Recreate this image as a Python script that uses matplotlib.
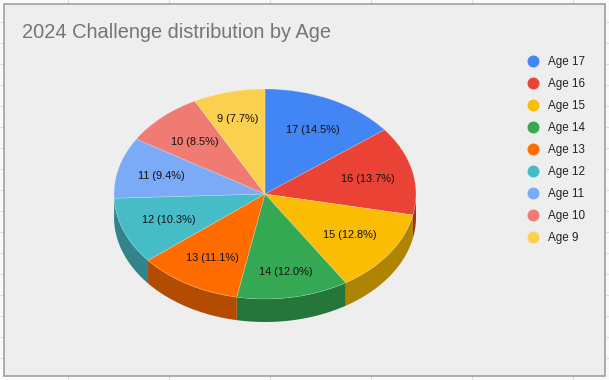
import numpy as np
from matplotlib import pyplot as plt
from matplotlib.lines import Line2D
from matplotlib.patches import Rectangle

plt.rcParams['font.family'] = ['Liberation Sans', 'DejaVu Sans']

ages = ['Age 17', 'Age 16', 'Age 15', 'Age 14', 'Age 13', 'Age 12', 'Age 11', 'Age 10', 'Age 9']
counts = [17, 16, 15, 14, 13, 12, 11, 10, 9]
colors = ['#4285f4', '#ea4335', '#fbbc04', '#34a853', '#ff6d01',
          '#46bdc6', '#7baaf7', '#f07b72', '#fcd04f']

W, H = 609, 380
cx, cy, rx, ry, depth = 265, 194, 151, 105, 23

# Small shifts (px) of the slice labels, the chart doesn't place them exactly on a radius
label_dx = [2, 1, -1, 1, 1, 1, -3, 1, -2]
label_dy = [1, 1, -0.5, 6.5, 1.5, 0.5, 0.5, 0.5, -4.5]

fig = plt.figure(figsize=(W / 100, H / 100), dpi=100, facecolor='#fafafa')

# Background axes in pixels: sheet grid, chart panel, title
bg = fig.add_axes([0, 0, 1, 1])
bg.set_xlim(0, W)
bg.set_ylim(H, 0)
bg.axis('off')
for y in range(22, 370, 21):
    bg.plot([0, W], [y, y], color='#dddddd', lw=0.8)
for x in range(68, 600, 101):
    bg.plot([x, x], [0, H], color='#dddddd', lw=0.8)
bg.add_patch(Rectangle((3.5, 3.5), 601, 372, facecolor='#eeeeee', edgecolor='#999999', lw=1.1, zorder=3))
bg.text(22, 32, '2024 Challenge distribution by Age', fontsize=14.45, color='#757575', va='center', zorder=4)

# Pie axes, squashed so the circle becomes the tilted ellipse
ax = fig.add_axes([(cx - 1.25 * rx) / W, 1 - (cy + 1.25 * ry) / H, 2.5 * rx / W, 2.5 * ry / H])
ax.patch.set_alpha(0)


def slice_label(pct):
    return f'{round(pct * sum(counts) / 100)} ({pct:.1f}%)'


wedges, _, autotexts = ax.pie(counts, colors=colors, startangle=90, counterclock=False,
                              autopct=slice_label, pctdistance=0.69,
                              wedgeprops={'edgecolor': '#ffffff55', 'linewidth': 0.4},
                              textprops={'fontsize': 7.9, 'color': '#111111'})
ax.set_aspect('auto')
ax.set_xlim(-1.25, 1.25)
ax.set_ylim(-1.25, 1.25)

for txt, dx, dy in zip(autotexts, label_dx, label_dy):
    x, y = txt.get_position()
    txt.set_position((x + dx / rx, y - dy / ry))

# Side walls of the slices that face the viewer
edges = np.cumsum([0] + counts) / sum(counts) * 360
for i, c in enumerate(colors):
    a, b = max(edges[i], 90), min(edges[i + 1], 270)
    if a >= b:
        continue
    t = np.radians(np.linspace(a, b, 60))
    wall_x = np.sin(t)
    wall_y = np.cos(t)
    dark = tuple(v * 0.7 for v in plt.matplotlib.colors.to_rgb(c))
    ax.fill(np.r_[wall_x, wall_x[::-1]], np.r_[wall_y, wall_y[::-1] - depth / ry],
            color=dark, lw=0, zorder=0.5)

# Legend
handles = [Line2D([], [], marker='o', ls='', color=c, ms=8.6, mew=0) for c in colors]
fig.legend(handles, ages, loc='upper left', bbox_to_anchor=(517 / W, 1 - 51 / H),
           frameon=False, fontsize=8.4, labelspacing=0.857, handletextpad=0.25,
           labelcolor='#222222', borderpad=0.4, borderaxespad=0)

plt.savefig('out.png', dpi=100)
